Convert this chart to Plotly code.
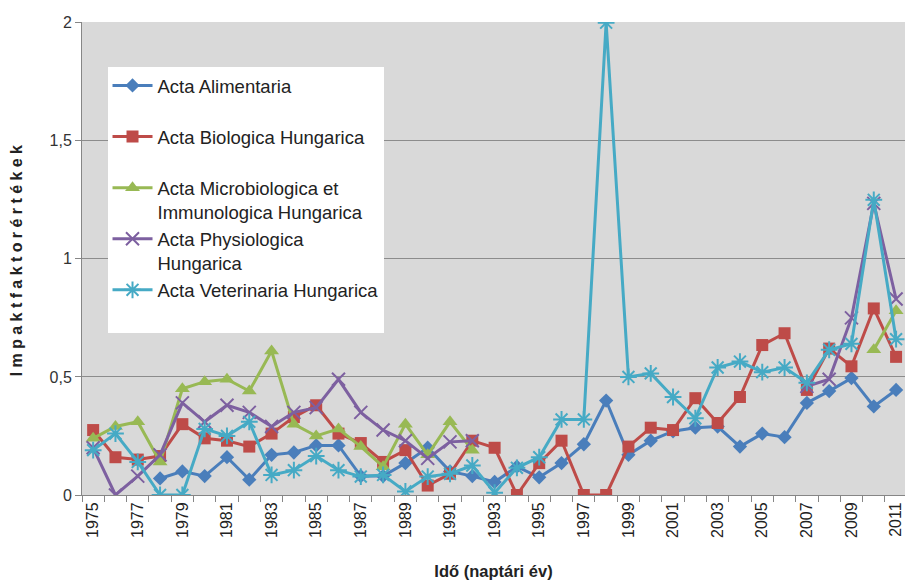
import plotly.graph_objects as go

years = list(range(1975, 2012))

acta_alimentaria = [None, None, None, 0.07, 0.10, 0.08, 0.16, 0.065, 0.17, 0.18,
                    0.21, 0.21, 0.08, 0.08, 0.135, 0.20, 0.10, 0.08, 0.055, 0.12,
                    0.075, 0.135, 0.215, 0.40, 0.17, 0.23, 0.27, 0.285, 0.29, 0.205,
                    0.26, 0.245, 0.39, 0.44, 0.495, 0.375, 0.445]
acta_biologica = [0.275, 0.16, 0.15, 0.165, 0.30, 0.24, 0.23, 0.205, 0.26, 0.33,
                  0.38, 0.26, 0.22, 0.14, 0.19, 0.04, 0.09, 0.23, 0.20, 0.0,
                  0.135, 0.23, 0.0, 0.0, 0.205, 0.285, 0.275, 0.41, 0.305, 0.415,
                  0.635, 0.685, 0.445, 0.62, 0.545, 0.79, 0.585]
acta_microbiologica = [0.24, 0.29, 0.31, 0.14, 0.45, 0.48, 0.49, 0.44, 0.61, 0.30,
                       0.25, 0.28, 0.205, 0.12, 0.30, 0.17, 0.31, 0.19, None, None,
                       None, None, None, None, None, None, None, None, None, None,
                       None, None, None, None, None, 0.615, 0.78]
acta_physiologica = [0.20, 0.0, 0.08, 0.17, 0.39, 0.31, 0.38, 0.35, 0.29, 0.35,
                     0.37, 0.49, 0.35, 0.275, 0.23, 0.155, 0.225, 0.23, None, None,
                     None, None, None, None, None, None, None, None, None, None,
                     None, None, 0.46, 0.49, 0.75, 1.235, 0.83]
acta_veterinaria = [0.19, 0.26, 0.14, 0.0, 0.0, 0.28, 0.25, 0.31, 0.085, 0.105,
                    0.165, 0.105, 0.078, 0.085, 0.015, 0.078, 0.09, 0.125, 0.01, 0.115,
                    0.16, 0.32, 0.32, 2.0, 0.50, 0.515, 0.415, 0.325, 0.54, 0.565,
                    0.52, 0.54, 0.475, 0.615, 0.64, 1.25, 0.66]

series_names = ["Acta Alimentaria<br> ",
                "Acta Biologica Hungarica<br> ",
                "Acta Microbiologica et<br>Immunologica Hungarica",
                "Acta Physiologica<br>Hungarica",
                "Acta Veterinaria Hungarica<br> "]
series_values = [acta_alimentaria, acta_biologica, acta_microbiologica,
                 acta_physiologica, acta_veterinaria]
series_colors = ["#4A7EBB", "#BE4B48", "#98B954", "#7D60A0", "#46AAC5"]
series_symbols = ["diamond", "square", "triangle-up", "x-thin-open", "asterisk-open"]
series_sizes = [11, 12, 13, 13, 14]

x_tick_vals = list(range(1975, 2012, 2))
x_tick_text = [str(v) for v in x_tick_vals]
y_tick_vals = [0, 0.5, 1, 1.5, 2]
y_tick_text = ["0", "0,5", "1", "1,5", "2"]

fig = go.Figure()
for name, vals, col, sym, sz in zip(series_names, series_values, series_colors,
                                    series_symbols, series_sizes):
    open_sym = sym.endswith("open")
    fig.add_trace(go.Scatter(
        x=years, y=vals, name=name, mode="lines+markers",
        line=dict(color=col, width=3),
        marker=dict(symbol=sym, size=sz, color=col,
                    line=dict(color=col, width=2 if open_sym else 0)),
        connectgaps=False,
    ))

fig.update_layout(
    width=905, height=581,
    margin=dict(l=82, r=0, t=22, b=86),
    paper_bgcolor="white",
    plot_bgcolor="#D9D9D9",
    font=dict(family="Liberation Sans, Arial, sans-serif", size=16, color="#333333"),
    showlegend=True,
    legend=dict(
        x=0.031, y=0.905, xanchor="left", yanchor="top",
        bgcolor="white", borderwidth=0,
        font=dict(size=18.5, color="#222222"),
        valign="top", itemwidth=40,
        tracegroupgap=0,
    ),
    xaxis=dict(
        range=[1974.5, 2011.4],
        automargin=False,
        tickmode="array", tickvals=x_tick_vals, ticktext=x_tick_text,
        tickangle=-90, ticks="",
        tickfont=dict(size=16, color="#222222"),
        showgrid=False, zeroline=False,
        showline=True, linecolor="#868686", linewidth=1,
        minor=dict(tick0=1974.5, dtick=1, ticks="outside", ticklen=6,
                   tickcolor="#868686", showgrid=False),
        title=dict(text="<b>Idő (naptári év)</b>", font=dict(size=16.5, color="#222222"),
                   standoff=28),
    ),
    yaxis=dict(
        range=[0, 2.003],
        automargin=False,
        tickmode="array", tickvals=y_tick_vals, ticktext=y_tick_text,
        ticks="outside", ticklen=6, tickcolor="#868686",
        tickfont=dict(size=16, color="#333333"),
        showgrid=True, gridcolor="#8C8C8C", gridwidth=1,
        zeroline=False,
        showline=True, linecolor="#868686", linewidth=1,
        title=dict(text="<b>Impaktfaktorértékek</b>", font=dict(size=16, color="#222222"),
                   standoff=22),
    ),
)

post = """
document.body.style.margin = '0';
document.body.style.overflow = 'hidden';
var t = document.querySelectorAll('.ytitle');
t.forEach(function(e){ e.style.letterSpacing = '4.4px'; });
"""
fig.write_html("out.html", post_script=post, config={"displayModeBar": False})
